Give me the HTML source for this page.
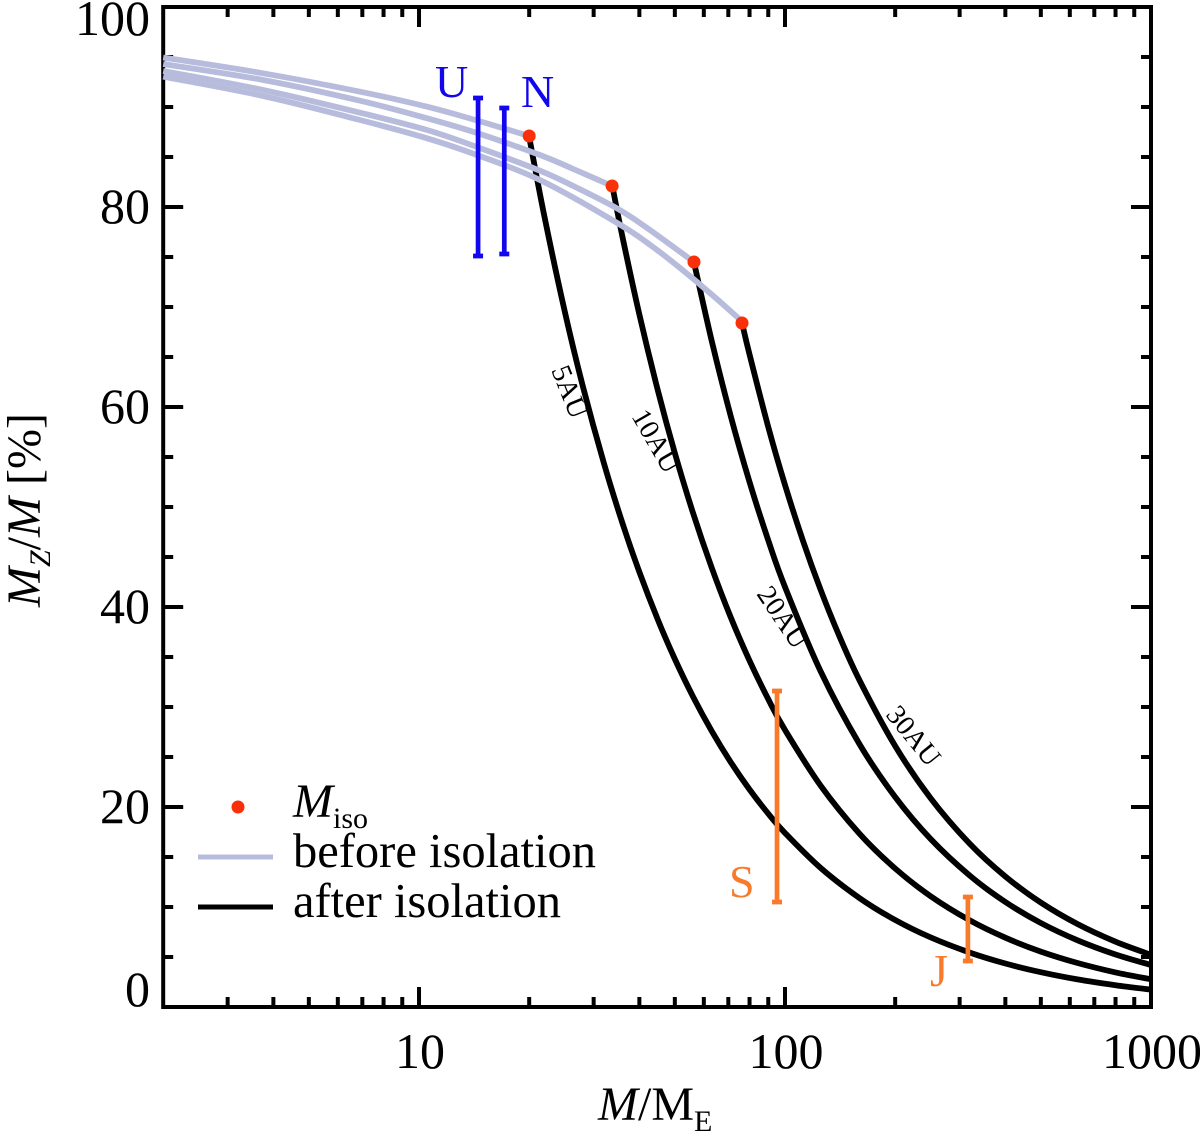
<!DOCTYPE html>
<html>
<head>
<meta charset="utf-8">
<title>Heavy element fraction versus planet mass</title>
<style>
  html, body { margin: 0; padding: 0; background: #fff; }
  svg { display: block; }
  text { font-family: "Liberation Serif", serif; fill: #000; }
</style>
</head>
<body>
<svg id="chart" xmlns="http://www.w3.org/2000/svg" width="1200" height="1132" viewBox="0 0 1200 1132">
  <rect x="0" y="0" width="1200" height="1132" fill="#fff"/>
  <g id="axes"></g>
  <g id="after-lines"></g>
  <g id="before-lines"></g>
  <g id="error-bars"></g>
  <g id="iso-points"></g>

  <text transform="translate(40,607) rotate(-90)" font-size="48"><tspan font-style="italic">M</tspan><tspan font-size="30" font-style="italic" dy="10">Z</tspan><tspan dy="-10">/</tspan><tspan font-style="italic">M</tspan> [%]</text>
  <text x="598" y="1120" font-size="48"><tspan font-style="italic">M</tspan>/M<tspan font-size="30" dy="11">E</tspan></text>

  <text x="435" y="97" font-size="46" style="fill:#1206ee">U</text>
  <text x="521" y="107" font-size="46" style="fill:#1206ee">N</text>
  <text x="729" y="897" font-size="46" style="fill:#f97a2b">S</text>
  <text x="930" y="986" font-size="46" style="fill:#f97a2b">J</text>

  <text transform="translate(551,370) rotate(68)" font-size="28">5AU</text>
  <text transform="translate(631,416) rotate(60)" font-size="28">10AU</text>
  <text transform="translate(756,594) rotate(56)" font-size="28">20AU</text>
  <text transform="translate(885,715) rotate(51)" font-size="28">30AU</text>

  <g>
    <circle cx="238" cy="807" r="6.5" fill="#fa3009"/>
    <text x="293" y="817" font-size="48"><tspan font-style="italic">M</tspan><tspan font-size="30" dy="11">iso</tspan></text>
    <line x1="198" y1="857" x2="273" y2="857" stroke="#b8bcdc" stroke-width="5"/>
    <text x="293" y="867" font-size="48.5">before isolation</text>
    <line x1="198" y1="907" x2="273" y2="907" stroke="#000" stroke-width="5"/>
    <text x="293" y="917" font-size="48.5">after isolation</text>
  </g>
</svg>

<script>
// Data: mass in Earth masses, fraction in percent
const after5Mass = [20, 22, 25, 28, 32, 36, 40, 45, 50, 56, 63, 71, 80, 90, 100, 125, 160, 200, 250, 320, 400, 500, 630, 800, 1000];
const after5Frac = [87.0, 79.09, 69.6, 62.14, 54.38, 48.33, 43.5, 38.67, 34.8, 31.07, 27.62, 24.51, 21.75, 19.33, 17.4, 13.92, 10.88, 8.7, 6.96, 5.44, 4.35, 3.48, 2.76, 2.18, 1.74];
const after10Mass = [33.7, 36, 40, 45, 50, 56, 63, 71, 80, 90, 100, 125, 160, 200, 250, 320, 400, 500, 630, 800, 1000];
const after10Frac = [82.2, 76.94, 69.25, 61.56, 55.4, 49.46, 43.97, 39.01, 34.63, 30.78, 27.7, 22.16, 17.31, 13.85, 11.08, 8.66, 6.93, 5.54, 4.4, 3.46, 2.77];
const after20Mass = [56.4, 63, 71, 80, 90, 100, 125, 160, 200, 250, 320, 400, 500, 630, 800, 1000];
const after20Frac = [74.47, 66.67, 59.15, 52.5, 46.67, 42, 33.6, 26.25, 21, 16.8, 13.13, 10.5, 8.4, 6.67, 5.25, 4.2];
const after30Mass = [76.3, 80, 90, 100, 112, 125, 140, 160, 200, 250, 320, 400, 500, 630, 800, 1000];
const after30Frac = [68.41, 65.25, 58, 52.2, 46.61, 41.76, 37.29, 32.63, 26.1, 20.88, 16.31, 13.05, 10.44, 8.29, 6.53, 5.22];

const before5Mass = [2, 3.75, 6.9, 10.52, 14.4, 20];
const before5Frac = [94.95, 93.37, 91.53, 90.03, 88.65, 87.1];
const before10Mass = [2, 3.75, 6.9, 10.52, 14.4, 21.4, 26.4, 33.7];
const before10Frac = [94.3, 92.7, 90.63, 88.87, 87.4, 85.2, 83.8, 82.1];
const before20Mass = [2, 3.75, 6.9, 10.52, 14.4, 21.4, 26.4, 34.8, 42, 56.4];
const before20Frac = [93.6, 91.7, 89.43, 87.7, 86.0, 83.63, 82.1, 79.85, 77.9, 74.5];
const before30Mass = [2, 3.75, 6.9, 10.52, 14.4, 21.4, 34.8, 44.7, 57.5, 74, 76.3];
const before30Frac = [93.03, 91.1, 88.7, 86.87, 85.2, 82.7, 78.4, 75.7, 72.5, 69, 68.4];

const isoMass = [20, 33.7, 56.4, 76.3];
const isoFrac = [87.1, 82.1, 74.5, 68.4];

const planetNames = ["uranus", "neptune", "saturn", "jupiter"];
const planetMass = [14.5, 17.1, 95.1, 316];
const planetLow = [75.1, 75.3, 10.5, 4.6];
const planetHigh = [90.9, 89.9, 31.6, 11];
const planetColors = ["#1206ee", "#1206ee", "#f97a2b", "#f97a2b"];

const xMajorTicks = [10, 100, 1000];
const xMinorTicks = [3, 4, 5, 6, 7, 8, 9, 20, 30, 40, 50, 60, 70, 80, 90, 200, 300, 400, 500, 600, 700, 800, 900];
const yMajorTicks = [0, 20, 40, 60, 80, 100];
const yMinorTicks = [5, 10, 15, 25, 30, 35, 45, 50, 55, 65, 70, 75, 85, 90, 95];

// Axis functions
const X_MIN = 2, X_MAX = 1000, Y_MIN = 0, Y_MAX = 100;
const LEFT = 163.2, RIGHT = 1151, TOP = 7, BOTTOM = 1007;
function xScale(m) {
  return LEFT + (Math.log10(m) - Math.log10(X_MIN)) / (Math.log10(X_MAX) - Math.log10(X_MIN)) * (RIGHT - LEFT);
}
function yScale(v) {
  return BOTTOM - (v - Y_MIN) / (Y_MAX - Y_MIN) * (BOTTOM - TOP);
}

const NS = "http://www.w3.org/2000/svg";
function make(tag, parent) {
  const el = document.createElementNS(NS, tag);
  document.getElementById(parent).appendChild(el);
  return el;
}
function smoothPath(masses, fracs) {
  const p = masses.map(function (m, i) { return [xScale(m), yScale(fracs[i])]; });
  let d = "M" + p[0][0].toFixed(2) + " " + p[0][1].toFixed(2);
  for (let i = 0; i < p.length - 1; i++) {
    const a = p[Math.max(i - 1, 0)], b = p[i], c = p[i + 1], e = p[Math.min(i + 2, p.length - 1)];
    const c1x = b[0] + (c[0] - a[0]) / 6, c1y = b[1] + (c[1] - a[1]) / 6;
    const c2x = c[0] - (e[0] - b[0]) / 6, c2y = c[1] - (e[1] - b[1]) / 6;
    d += "C" + c1x.toFixed(2) + " " + c1y.toFixed(2) + " " + c2x.toFixed(2) + " " + c2y.toFixed(2) + " " + c[0].toFixed(2) + " " + c[1].toFixed(2);
  }
  return d;
}
function drawCurve(parent, name, masses, fracs, color) {
  const path = make("path", parent);
  
  
  path.setAttribute("d", smoothPath(masses, fracs));
  path.setAttribute("fill", "none");
  path.setAttribute("stroke", color);
  path.setAttribute("stroke-width", "5.8");
}

function tick(name, x1, y1, x2, y2) {
  const t = make("line", "axes");
  
  
  t.setAttribute("x1", x1);
  t.setAttribute("y1", y1);
  t.setAttribute("x2", x2);
  t.setAttribute("y2", y2);
  t.setAttribute("stroke", "#000");
  t.setAttribute("stroke-width", "4");
}
xMajorTicks.forEach(function (v) {
  const x = xScale(v);
  tick("x-major-tick", x, BOTTOM, x, BOTTOM - 20);
  tick("x-major-tick-top", x, TOP, x, TOP + 20);
  const label = make("text", "axes");
  
  
  label.setAttribute("x", x + 1);
  label.setAttribute("y", 1068);
  label.setAttribute("font-size", "50");
  label.setAttribute("text-anchor", "middle");
  label.textContent = String(v);
});
xMinorTicks.forEach(function (v) {
  const x = xScale(v);
  tick("x-minor-tick", x, BOTTOM, x, BOTTOM - 10);
  tick("x-minor-tick-top", x, TOP, x, TOP + 10);
});
yMajorTicks.forEach(function (v) {
  const y = yScale(v);
  tick("y-major-tick", LEFT, y, LEFT + 20, y);
  tick("y-major-tick-right", RIGHT, y, RIGHT - 20, y);
  const label = make("text", "axes");
  
  
  label.setAttribute("x", 150);
  label.setAttribute("y", v === 0 ? 1006 : (v === 100 ? 35 : y + 16));
  label.setAttribute("font-size", "50");
  label.setAttribute("text-anchor", "end");
  label.textContent = String(v);
});
yMinorTicks.forEach(function (v) {
  const y = yScale(v);
  tick("y-minor-tick", LEFT, y, LEFT + 10, y);
  tick("y-minor-tick-right", RIGHT, y, RIGHT - 10, y);
});

const frame = make("rect", "axes");


frame.setAttribute("x", LEFT);
frame.setAttribute("y", TOP);
frame.setAttribute("width", RIGHT - LEFT);
frame.setAttribute("height", BOTTOM - TOP);
frame.setAttribute("fill", "none");
frame.setAttribute("stroke", "#000");
frame.setAttribute("stroke-width", "4");

drawCurve("after-lines", "after-curve-5au", after5Mass, after5Frac, "#000");
drawCurve("after-lines", "after-curve-10au", after10Mass, after10Frac, "#000");
drawCurve("after-lines", "after-curve-20au", after20Mass, after20Frac, "#000");
drawCurve("after-lines", "after-curve-30au", after30Mass, after30Frac, "#000");
drawCurve("before-lines", "before-curve-5au", before5Mass, before5Frac, "#b8bcdc");
drawCurve("before-lines", "before-curve-10au", before10Mass, before10Frac, "#b8bcdc");
drawCurve("before-lines", "before-curve-20au", before20Mass, before20Frac, "#b8bcdc");
drawCurve("before-lines", "before-curve-30au", before30Mass, before30Frac, "#b8bcdc");

planetMass.forEach(function (m, i) {
  const x = xScale(m), y1 = yScale(planetLow[i]), y2 = yScale(planetHigh[i]);
  const bar = make("path", "error-bars");
  
  
  bar.setAttribute("d", "M" + x + " " + y1 + "V" + y2 + "M" + (x - 5) + " " + y1 + "H" + (x + 5) + "M" + (x - 5) + " " + y2 + "H" + (x + 5));
  bar.setAttribute("fill", "none");
  bar.setAttribute("stroke", planetColors[i]);
  bar.setAttribute("stroke-width", "4.7");
});

isoMass.forEach(function (m, i) {
  const dot = make("circle", "iso-points");
  
  
  dot.setAttribute("cx", xScale(m));
  dot.setAttribute("cy", yScale(isoFrac[i]));
  dot.setAttribute("r", "6.5");
  dot.setAttribute("fill", "#fa3009");
});
</script>
</body>
</html>
